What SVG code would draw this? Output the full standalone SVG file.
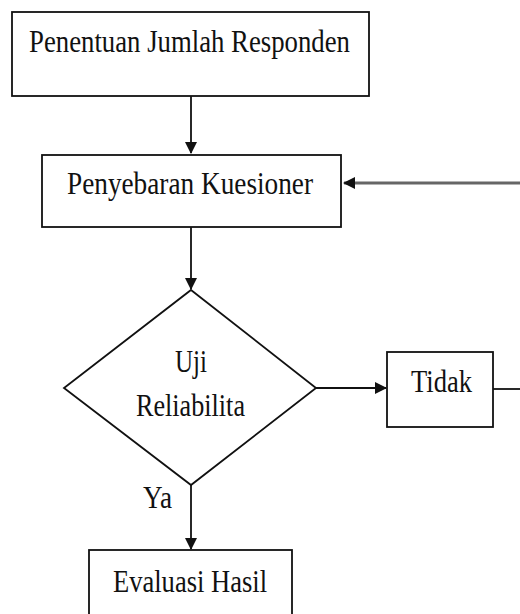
<svg xmlns="http://www.w3.org/2000/svg" width="520" height="614" viewBox="0 0 520 614">
<style>
.box{fill:#fff;stroke:#111;stroke-width:1.8}
.t{font-family:"Liberation Serif","Times New Roman",serif;font-size:32px;fill:#111;text-anchor:start}
.ln{stroke:#111;stroke-width:1.8;fill:none}
</style>
<defs>
<marker id="ah" markerWidth="12" markerHeight="12" refX="11" refY="6" orient="auto" markerUnits="userSpaceOnUse" viewBox="0 0 12 12">
<path d="M0,0 L12,6 L0,12 z" fill="#111"/>
</marker>
</defs>
<rect width="520" height="614" fill="#fff"/>
<g id="connectors">
<line class="ln" x1="191" y1="96" x2="191" y2="153" marker-end="url(#ah)"/>
<line class="ln" x1="191" y1="227" x2="191" y2="289" marker-end="url(#ah)"/>
<line x1="316" y1="388" x2="386" y2="388" class="ln" marker-end="url(#ah)"/>
<line class="ln" x1="191" y1="485" x2="191" y2="549" marker-end="url(#ah)"/>
<line x1="493" y1="389" x2="520" y2="389" class="ln"/>
<line x1="520" y1="183" x2="344" y2="183" stroke="#666" stroke-width="3" marker-end="url(#ah)"/>
<text class="t" x="143" y="508" textLength="29" lengthAdjust="spacingAndGlyphs">Ya</text>
</g>
<g id="n1">
<rect class="box" x="12" y="12" width="357" height="84"/>
<text class="t" x="29" y="52" textLength="321" lengthAdjust="spacingAndGlyphs">Penentuan Jumlah Responden</text>
</g>
<g id="n2">
<rect class="box" x="42" y="155" width="299" height="72"/>
<text class="t" x="67" y="194" textLength="246" lengthAdjust="spacingAndGlyphs">Penyebaran Kuesioner</text>
</g>
<g id="n3">
<polygon class="box" points="191,290 316,388 191,485 64,388"/>
<text class="t" x="175" y="372" textLength="32" lengthAdjust="spacingAndGlyphs">Uji</text>
<text class="t" x="136" y="416" textLength="109" lengthAdjust="spacingAndGlyphs">Reliabilita</text>
</g>
<g id="n4">
<rect class="box" x="387" y="352" width="106" height="75"/>
<text class="t" x="411" y="392" textLength="61" lengthAdjust="spacingAndGlyphs">Tidak</text>
</g>
<g id="n5">
<rect class="box" x="89" y="550" width="203" height="80"/>
<text class="t" x="113" y="592" textLength="154" lengthAdjust="spacingAndGlyphs">Evaluasi Hasil</text>
</g>
</svg>
